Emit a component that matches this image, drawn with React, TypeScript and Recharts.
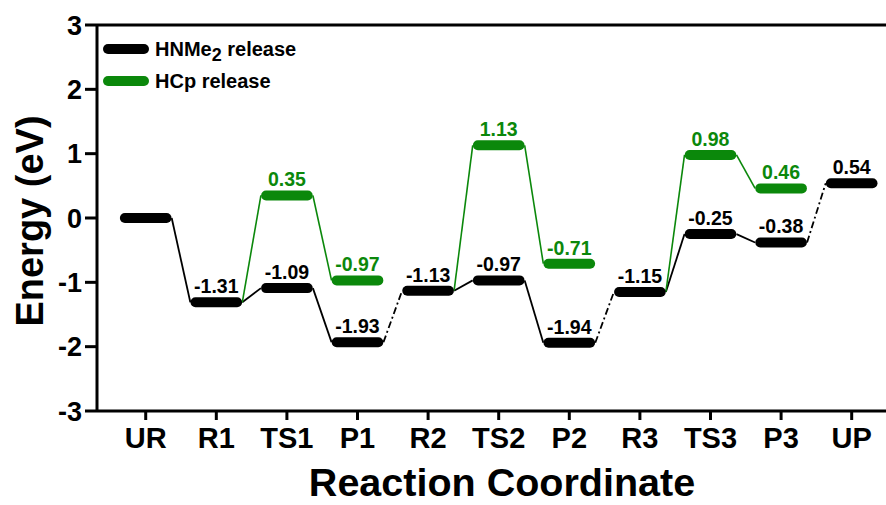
import React from 'react';
import { ComposedChart, Line, XAxis, YAxis, ReferenceLine, LabelList, Legend } from 'recharts';

const categories = ['UR', 'R1', 'TS1', 'P1', 'R2', 'TS2', 'P2', 'R3', 'TS3', 'P3', 'UP'];
const hnme2Energy = [0, -1.31, -1.09, -1.93, -1.13, -0.97, -1.94, -1.15, -0.25, -0.38, 0.54];
const hcpEnergy: (number | null)[] = [null, null, 0.35, -0.97, null, 1.13, -0.71, null, 0.98, 0.46, null];
const hnme2Labels = ['', '-1.31', '-1.09', '-1.93', '-1.13', '-0.97', '-1.94', '-1.15', '-0.25', '-0.38', '0.54'];
const hcpLabels = ['', '', '0.35', '-0.97', '', '1.13', '-0.71', '', '0.98', '0.46', ''];
const dashedFrom = [3, 6, 9];
const yTicks = [-3, -2, -1, 0, 1, 2, 3];

const BLACK = '#000000';
const GREEN = '#0b880b';
const HW = 0.295; // half-width of a level (before round caps)
const EDGE = 0.368; // where connectors attach
const FONT = 'Arial, "Liberation Sans", Helvetica, sans-serif';

type Seg = { key: string; data: any[]; color: string; width: number; dash?: string; label?: boolean };

const segments: Seg[] = [];
for (let i = 0; i < categories.length - 1; i++) {
  const a = hnme2Energy[i];
  const b = hnme2Energy[i + 1];
  segments.push({
    key: `bc${i}`,
    data: [{ x: i + EDGE, y: a }, { x: i + 1 - EDGE, y: b }],
    color: BLACK,
    width: 1.8,
    dash: dashedFrom.includes(i) ? '7 3 2 3' : undefined,
  });
}
for (let i = 0; i < categories.length - 1; i++) {
  const b = hcpEnergy[i + 1];
  if (b === null) continue;
  const a = hcpEnergy[i] !== null ? (hcpEnergy[i] as number) : hnme2Energy[i];
  segments.push({
    key: `gc${i}`,
    data: [{ x: i + EDGE, y: a }, { x: i + 1 - EDGE, y: b }],
    color: GREEN,
    width: 1.6,
  });
}
hnme2Energy.forEach((v, i) => {
  segments.push({
    key: `bl${i}`,
    data: [{ x: i - HW, y: v }, { x: i, y: v, lab: hnme2Labels[i] || undefined }, { x: i + HW, y: v }],
    color: BLACK,
    width: 10,
    label: true,
  });
});
hcpEnergy.forEach((v, i) => {
  if (v === null) return;
  segments.push({
    key: `gl${i}`,
    data: [{ x: i - HW, y: v }, { x: i, y: v, lab: hcpLabels[i] || undefined }, { x: i + HW, y: v }],
    color: GREEN,
    width: 10,
    label: true,
  });
});

const legendItems = [
  { name: 'HNMe', sub: '2', rest: ' release', color: BLACK },
  { name: 'HCp release', sub: '', rest: '', color: GREEN },
];

const renderLegend = () => (
  <div style={{ fontFamily: FONT, fontWeight: 'bold', fontSize: 20, lineHeight: '20px' }}>
    {legendItems.map((it, idx) => (
      <div key={idx} style={{ display: 'flex', alignItems: 'center', height: 32 }}>
        <svg width={48} height={12} style={{ marginRight: 4 }}>
          <line x1={5} y1={6} x2={41} y2={6} stroke={it.color} strokeWidth={10} strokeLinecap="round" />
        </svg>
        <span style={{ color: '#000' }}>
          {it.name}
          {it.sub ? <sub style={{ fontSize: 18, verticalAlign: '-5px', lineHeight: '0' }}>{it.sub}</sub> : null}
          {it.rest}
        </span>
      </div>
    ))}
  </div>
);

export default function App() {
  return (
    <div style={{ position: 'absolute', left: 0, top: 0, width: 886, height: 505, background: '#fff', overflow: 'hidden' }}>
      <ComposedChart width={886} height={505} margin={{ top: 25, right: 0, bottom: 0, left: 0 }}>
        <XAxis
          type="number"
          dataKey="x"
          height={94}
          domain={[-0.69, 10.486]}
          allowDataOverflow
          ticks={categories.map((_, i) => i)}
          tickFormatter={(i: number) => categories[i] ?? ''}
          axisLine={{ stroke: BLACK, strokeWidth: 3 }}
          tickLine={{ stroke: BLACK, strokeWidth: 3 }}
          tickSize={9}
          tickMargin={7}
          tick={{ fill: BLACK, fontSize: 29, fontWeight: 'bold', fontFamily: FONT }}
          interval={0}
          label={{
            content: () => (
              <text x={502} y={496} textAnchor="middle" fontFamily={FONT} fontWeight="bold" fontSize={39.5} fill={BLACK}>
                Reaction Coordinate
              </text>
            ),
          }}
        />
        <YAxis
          type="number"
          domain={[-3, 3]}
          ticks={yTicks}
          width={97}
          allowDataOverflow
          axisLine={{ stroke: BLACK, strokeWidth: 3 }}
          tickLine={{ stroke: BLACK, strokeWidth: 3 }}
          tickSize={12}
          tickMargin={3}
          tick={{ fill: BLACK, fontSize: 27, fontWeight: 'bold', fontFamily: FONT }}
          label={{
            content: () => (
              <text
                transform="translate(43,221) rotate(-90)"
                textAnchor="middle"
                fontFamily={FONT}
                fontWeight="bold"
                fontSize={38}
                fill={BLACK}
              >
                Energy (eV)
              </text>
            ),
          }}
        />
        <ReferenceLine y={3} stroke={BLACK} strokeWidth={3} ifOverflow="extendDomain" />
        {segments.map((s) => (
          <Line
            key={s.key}
            data={s.data}
            dataKey="y"
            type="linear"
            stroke={s.color}
            strokeWidth={s.width}
            strokeLinecap={s.label ? 'round' : 'butt'}
            strokeDasharray={s.dash}
            dot={false}
            activeDot={false}
            isAnimationActive={false}
            legendType="none"
          >
            {s.label ? (
              <LabelList
                dataKey="lab"
                position="top"
                offset={9}
                fill={s.color}
                fontSize={19.5}
                fontWeight="bold"
                fontFamily={FONT}
              />
            ) : null}
          </Line>
        ))}
        <Legend
          layout="horizontal"
          verticalAlign="middle"
          align="center"
          content={renderLegend}
          wrapperStyle={{ position: 'absolute', left: 103, top: 33, width: 'auto', height: 'auto' }}
        />
      </ComposedChart>
    </div>
  );
}
